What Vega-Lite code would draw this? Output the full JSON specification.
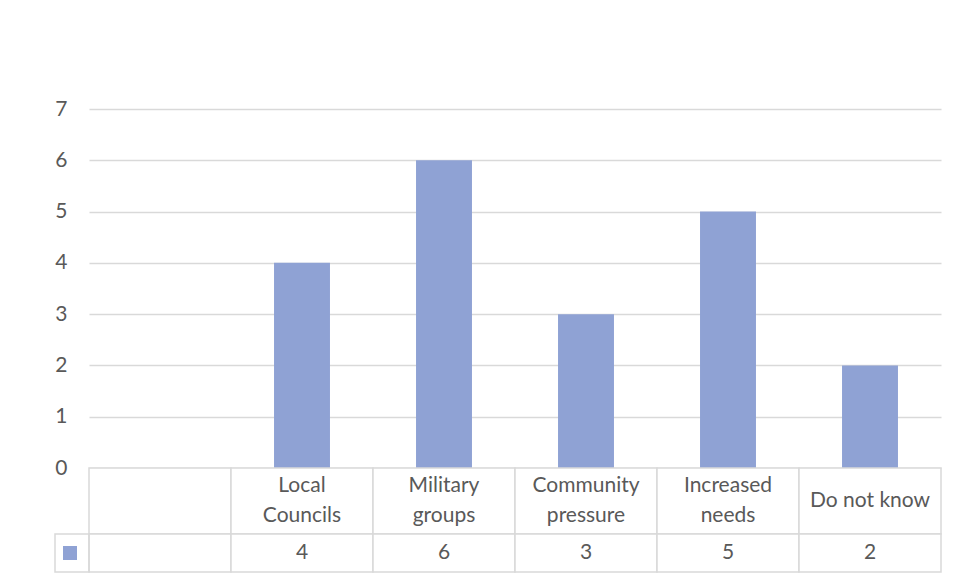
{
  "$schema": "https://vega.github.io/schema/vega-lite/v6.json",
  "background": "white",
  "padding": {"left": 52, "top": 98, "right": 17, "bottom": 10},
  "spacing": 0,
  "bounds": "flush",
  "config": {
    "view": {"stroke": null},
    "font": "Lato",
    "text": {"font": "Lato"}
  },
  "data": {
    "values": [
      {"cat": " ", "label": " ", "value": null},
      {"cat": "Local Councils", "label": "Local\nCouncils", "value": 4},
      {"cat": "Military groups", "label": "Military\ngroups", "value": 6},
      {"cat": "Community pressure", "label": "Community\npressure", "value": 3},
      {"cat": "Increased needs", "label": "Increased\nneeds", "value": 5},
      {"cat": "Do not know", "label": "Do not know", "value": 2}
    ]
  },
  "vconcat": [
    {
      "width": 852,
      "height": 359,
      "mark": {"type": "bar", "width": {"band": 0.394}, "color": "#8fa2d4"},
      "encoding": {
        "x": {
          "field": "cat", "type": "nominal", "axis": null,
          "scale": {"domain": [" ", "Local Councils", "Military groups", "Community pressure", "Increased needs", "Do not know"], "paddingInner": 0, "paddingOuter": 0}
        },
        "y": {
          "field": "value", "type": "quantitative",
          "scale": {"domain": [0, 7], "nice": false},
          "axis": {
            "title": null, "values": [0, 1, 2, 3, 4, 5, 6, 7],
            "grid": true, "gridColor": "#d9d9d9", "gridWidth": 1.5,
            "domain": false, "ticks": false, "tickSize": 0, "labelPadding": 22,
            "labelFontSize": 21, "labelColor": "#595959", "labelFont": "Lato"
          }
        }
      }
    },
    {
      "width": 852,
      "height": 66,
      "layer": [
        {
          "mark": {"type": "rect", "fill": "white", "stroke": "#d9d9d9", "strokeWidth": 1.5},
          "encoding": {
            "x": {
              "field": "cat", "type": "nominal", "axis": null,
              "scale": {"domain": [" ", "Local Councils", "Military groups", "Community pressure", "Increased needs", "Do not know"], "paddingInner": 0, "paddingOuter": 0}
            }
          }
        },
        {
          "mark": {"type": "text", "fontSize": 21, "color": "#595959", "lineBreak": "\n", "lineHeight": 30, "baseline": "middle", "align": "center", "dy": {"expr": "indexof(datum.label, '\\n') >= 0 ? -15 : 0"}},
          "encoding": {
            "x": {"field": "cat", "type": "nominal", "axis": null},
            "text": {"field": "label"}
          }
        }
      ]
    },
    {
      "width": 852,
      "height": 38,
      "layer": [
        {
          "mark": {"type": "rect", "fill": "white", "stroke": "#d9d9d9", "strokeWidth": 1.5},
          "encoding": {
            "x": {
              "field": "cat", "type": "nominal", "axis": null,
              "scale": {"domain": [" ", "Local Councils", "Military groups", "Community pressure", "Increased needs", "Do not know"], "paddingInner": 0, "paddingOuter": 0}
            }
          }
        },
        {
          "transform": [{"filter": "datum.value != null"}],
          "mark": {"type": "text", "fontSize": 21, "color": "#595959", "baseline": "middle", "align": "center"},
          "encoding": {
            "x": {"field": "cat", "type": "nominal", "axis": null},
            "text": {"field": "value"}
          }
        },
        {
          "transform": [{"filter": "datum.value == null"}],
          "mark": {"type": "point", "shape": "M-1,-1.118L1,-1.118L1,1.118L-1,1.118Z", "size": 1156, "filled": false, "stroke": "#d9d9d9", "strokeWidth": 1.5, "opacity": 1, "xOffset": -17},
          "encoding": {
            "x": {"datum": " ", "bandPosition": 0, "type": "nominal", "axis": null}
          }
        },
        {
          "transform": [{"filter": "datum.value == null"}],
          "mark": {"type": "square", "size": 196, "filled": true, "color": "#8fa2d4", "opacity": 1, "xOffset": -19},
          "encoding": {
            "x": {"datum": " ", "bandPosition": 0, "type": "nominal", "axis": null}
          }
        }
      ]
    }
  ]
}
